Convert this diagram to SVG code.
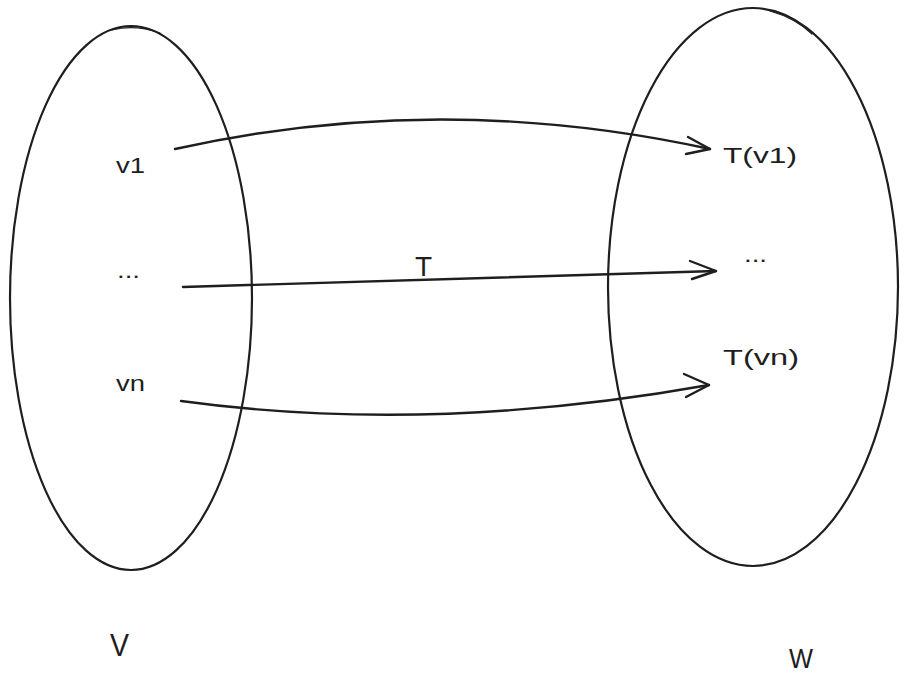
<svg xmlns="http://www.w3.org/2000/svg" width="908" height="691" viewBox="0 0 908 691">
<style>
.shape{fill:none;stroke:#1e1e1e;stroke-width:2.2;stroke-linecap:round;stroke-linejoin:round}
.thin{fill:none;stroke:#1e1e1e;stroke-width:1.2;stroke-linecap:round}
.conn{fill:none;stroke:#1e1e1e;stroke-width:2.4;stroke-linecap:round;stroke-linejoin:round}
.lbl{font-family:"Liberation Sans",Arial,sans-serif;fill:#1e1e1e}
</style>
<rect width="908" height="691" fill="#ffffff"/>
<g id="set-V">
<ellipse class="shape" cx="131" cy="298" rx="121" ry="272"/>
<path class="thin" d="M112,30 Q135,24 160,33"/>
<text class="lbl" x="110" y="656" font-size="32" textLength="19" lengthAdjust="spacingAndGlyphs">V</text>
</g>
<g id="set-W">
<ellipse class="shape" cx="753" cy="287" rx="145" ry="279"/>
<path class="thin" d="M770,11 Q795,18 812,34"/>
<text class="lbl" x="789" y="668" font-size="28" textLength="24" lengthAdjust="spacingAndGlyphs">W</text>
</g>
<g id="node-v1"><text class="lbl" x="116" y="173" font-size="22" textLength="29" lengthAdjust="spacingAndGlyphs">v1</text></g>
<g id="node-vdots"><text class="lbl" x="117" y="278" font-size="22" textLength="23" lengthAdjust="spacingAndGlyphs">...</text></g>
<g id="node-vn"><text class="lbl" x="116" y="391" font-size="22" textLength="29" lengthAdjust="spacingAndGlyphs">vn</text></g>
<g id="node-Tv1"><text class="lbl" x="723" y="163" font-size="22" textLength="74" lengthAdjust="spacingAndGlyphs">T(v1)</text></g>
<g id="node-Tdots"><text class="lbl" x="744" y="262" font-size="22" textLength="23" lengthAdjust="spacingAndGlyphs">...</text></g>
<g id="node-Tvn"><text class="lbl" x="723" y="365" font-size="22" textLength="76" lengthAdjust="spacingAndGlyphs">T(vn)</text></g>
<g id="connectors">
<path class="conn" d="M175,149 Q440,90 710,149"/>
<polyline class="conn" points="688,137 710,149 686,154"/>
<path class="conn" d="M183,287 L716,271"/>
<polyline class="conn" points="690,261 716,271 692,279"/>
<text class="lbl" x="415" y="276" font-size="28">T</text>
<path class="conn" d="M181,401 Q430,435 709,385"/>
<polyline class="conn" points="684,374 709,385 686,397"/>
</g>
</svg>
